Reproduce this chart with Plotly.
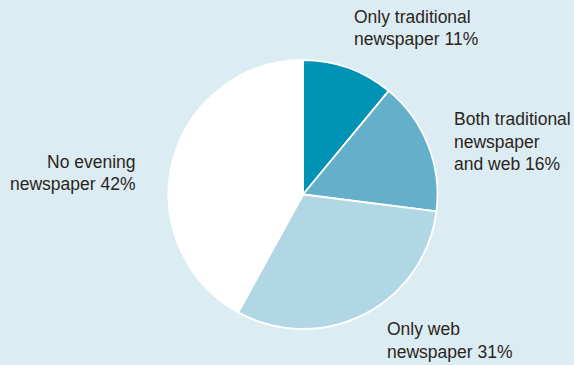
import plotly.graph_objects as go

# ---- data ----
categories = ["Only traditional newspaper", "Both traditional newspaper and web",
              "Only web newspaper", "No evening newspaper"]
shares = [11, 16, 31, 42]
label_lines = [
    ["Only traditional", "newspaper 11%"],
    ["Both traditional", "newspaper", "and web 16%"],
    ["Only web", "newspaper 31%"],
    ["No evening", "newspaper 42%"],
]
slice_colors = ["#0093b5", "#64b0cb", "#b1d7e5", "#ffffff"]

# ---- layout constants (pixels) ----
W, H = 574, 365
BG = "#dcecf3"
TXT = "#2b2520"
cx, cy, r = 303, 194.5, 134.5
label_pos = [  # (x, first baseline, anchor)
    (352, 22.7, "left"),
    (452, 125, "left"),
    (385, 335, "left"),
    (138, 167.5, "right"),
]
line_gap = 22.6
fs = 17.5

fig = go.Figure()
fig.add_trace(go.Pie(
    labels=categories, values=shares, sort=False, direction="clockwise",
    rotation=0, textinfo="none", hoverinfo="label+percent",
    marker=dict(colors=slice_colors, line=dict(color="white", width=1.8)),
    domain=dict(x=[(cx - r) / W, (cx + r) / W],
                y=[(H - cy - r) / H, (H - cy + r) / H]),
    showlegend=False,
))

annotations = []
for lines, (x, b0, anc) in zip(label_lines, label_pos):
    for i, t in enumerate(lines):
        annotations.append(dict(
            x=x, y=b0 + i * line_gap - 6, xref="x", yref="y", text=t,
            showarrow=False, xanchor=anc, yanchor="middle",
            font=dict(family="Liberation Sans, Arial, sans-serif", size=fs, color=TXT),
        ))

fig.update_layout(
    width=W, height=H, margin=dict(l=0, r=0, t=0, b=0),
    paper_bgcolor=BG, plot_bgcolor=BG,
    xaxis=dict(range=[0, W], visible=False, fixedrange=True),
    yaxis=dict(range=[H, 0], visible=False, fixedrange=True),
    annotations=annotations,
)
fig.write_html(
    "out.html",
    config={"displayModeBar": False},
    post_script="document.body.style.margin='0';document.body.style.overflow='hidden';",
)
